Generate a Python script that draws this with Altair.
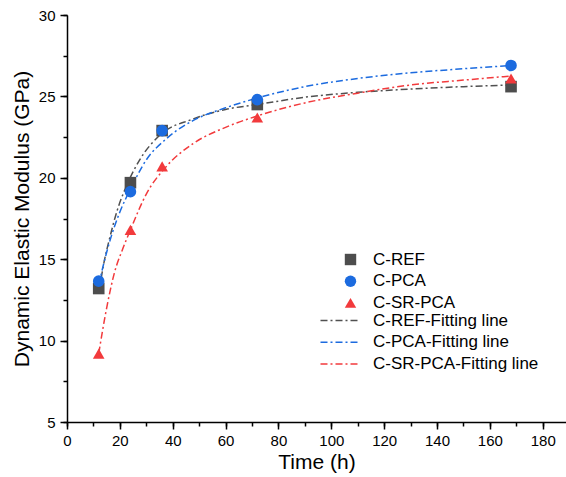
import altair as alt
import pandas as pd

# ---- measured data ----
times = [12, 24, 36, 72, 168]
ref_vals = [13.2, 19.7, 22.9, 24.5, 25.6]
pca_vals = [13.65, 19.15, 22.9, 24.8, 26.9]
srpca_vals = [9.2, 16.8, 20.7, 23.7, 26.1]

point_names = ["C-REF", "C-PCA", "C-SR-PCA"]
point_colors = ["#4d4d4d", "#1c6bdf", "#f23a3c"]
point_shapes = ["square", "circle", "triangle-up"]

# fitting lines
ref_fit_t = [12, 14, 16, 19, 22.5, 27.5, 35, 47.5, 60, 72, 90, 110, 130, 150, 168]
ref_fit_v = [12.9, 14.8, 16.2, 18.0, 19.5, 21.1, 22.6, 23.6, 24.2, 24.5, 24.95, 25.25, 25.45, 25.6, 25.7]
pca_fit_t = [12, 14, 16, 20, 24, 30, 37.6, 47.5, 60, 72, 90, 110, 130, 150, 168]
pca_fit_v = [13.4, 14.8, 16.0, 17.9, 19.3, 21.1, 22.4, 23.5, 24.3, 24.9, 25.6, 26.1, 26.45, 26.7, 26.9]
sr_fit_t = [12, 15, 18, 21, 24, 30, 37.6, 47.7, 60, 72, 90, 110, 130, 150, 168]
sr_fit_v = [9.2, 12.0, 14.2, 15.6, 16.8, 19.0, 20.7, 22.1, 23.1, 23.8, 24.6, 25.2, 25.7, 26.0, 26.25]

fit_names = ["C-REF-Fitting line", "C-PCA-Fitting line", "C-SR-PCA-Fitting line"]
fit_colors = ["#505050", "#1c6bdf", "#f23a3c"]

x_major = [0, 20, 40, 60, 80, 100, 120, 140, 160, 180]
x_minor = list(range(0, 190, 10))
y_major = [5, 10, 15, 20, 25, 30]
y_minor = [5 + 2.5 * i for i in range(11)]

FONT = "Liberation Sans"

pts = pd.DataFrame({
    "t": times * 3,
    "v": ref_vals + pca_vals + srpca_vals,
    "series": [point_names[0]] * 5 + [point_names[1]] * 5 + [point_names[2]] * 5,
})
fits = pd.DataFrame({
    "t": ref_fit_t + pca_fit_t + sr_fit_t,
    "v": ref_fit_v + pca_fit_v + sr_fit_v,
    "fit": [fit_names[0]] * len(ref_fit_t) + [fit_names[1]] * len(pca_fit_t) + [fit_names[2]] * len(sr_fit_t),
})

xscale = alt.Scale(domain=[0, 188.8], nice=False, zero=False)
yscale = alt.Scale(domain=[5, 30], nice=False, zero=False)

DASH = [7, 3, 2, 3]

line_legend = alt.Legend(
    orient="none", legendX=265, legendY=297, title=None,
    labelFontSize=17, labelFont=FONT, labelColor="black", labelLimit=0,
    symbolType="M-4,0H4", symbolSize=100, symbolDash=DASH, symbolStrokeWidth=1.5,
    rowPadding=3.7, labelOffset=24, padding=0,
)
pt_legend = alt.Legend(
    orient="none", legendX=275, legendY=236, title=None,
    labelFontSize=17, labelFont=FONT, labelColor="black", labelLimit=0,
    symbolSize=130, symbolStrokeWidth=0, rowPadding=3.7, labelOffset=14, padding=0,
)

lines = alt.Chart(fits).mark_line(
    strokeWidth=1.5, strokeDash=DASH, interpolate="monotone"
).encode(
    x=alt.X("t:Q", scale=xscale, axis=alt.Axis(
        values=x_minor, tickSize=4, labels=False, title=None, domain=False,
        orient="bottom", grid=False, tickColor="black", tickWidth=1.5)),
    y=alt.Y("v:Q", scale=yscale, axis=alt.Axis(
        values=y_minor, tickSize=4, labels=False, title=None, domain=False,
        orient="left", grid=False, tickColor="black", tickWidth=1.5)),
    color=alt.Color("fit:N", scale=alt.Scale(domain=fit_names, range=fit_colors), legend=line_legend),
    detail="fit:N",
)

points = alt.Chart(pts).mark_point(filled=True, size=135, opacity=1).encode(
    x=alt.X("t:Q", scale=xscale, axis=alt.Axis(
        values=x_major, tickSize=7, title="Time (h)", orient="bottom", grid=False,
        domainColor="black", domainWidth=1.5, tickColor="black", tickWidth=1.5,
        labelFontSize=15, labelFont=FONT, labelColor="black", labelPadding=4,
        titleFontSize=21, titleFont=FONT, titleFontWeight="normal", titleColor="black",
        titlePadding=3, labelFlush=False)),
    y=alt.Y("v:Q", scale=yscale, axis=alt.Axis(
        values=y_major, tickSize=7, title="Dynamic Elastic Modulus (GPa)", orient="left", grid=False,
        domainColor="black", domainWidth=1.5, tickColor="black", tickWidth=1.5,
        labelFontSize=15, labelFont=FONT, labelColor="black", labelPadding=5,
        titleFontSize=21, titleFont=FONT, titleFontWeight="normal", titleColor="black",
        titlePadding=6, labelFlush=False)),
    color=alt.Color("series:N", scale=alt.Scale(domain=point_names, range=point_colors), legend=pt_legend),
    shape=alt.Shape("series:N", scale=alt.Scale(domain=point_names, range=point_shapes), legend=pt_legend),
)

chart = alt.layer(lines, points).resolve_scale(
    color="independent", shape="independent"
).resolve_axis(
    x="independent", y="independent"
).properties(
    width=499, height=407,
    autosize=alt.AutoSizeParams(type="none"),
    padding={"left": 67, "top": 15, "right": 0, "bottom": 55},
    background="white",
).configure_view(stroke=None)

chart.save("out.html", embed_options={"renderer": "svg", "actions": False})
